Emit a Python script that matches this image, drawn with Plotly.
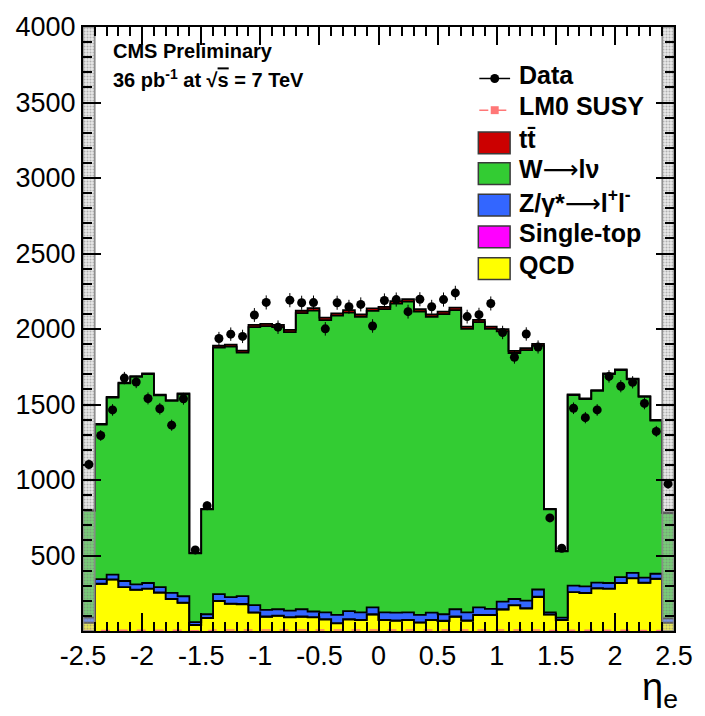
import numpy as np
import plotly.graph_objects as go

# ---------------- data ----------------
eta_lo, eta_hi, bin_w = -2.5, 2.5, 0.1
n_bins = 50

qcd = [55, 312, 341, 290, 273, 280, 254, 212, 187, 39,
       85, 198, 179, 177, 122, 94, 100, 90, 94, 90,
       76, 50, 76, 72, 109, 72, 68, 72, 55, 72,
       66, 94, 68, 105, 105, 142, 170, 149, 225, 109,
       72, 257, 251, 282, 280, 317, 349, 319, 345, 55]

single_top = [1, 1, 1, 1, 1, 1, 1, 1, 1, 1,
              1, 2, 2, 2, 2, 2, 2, 2, 2, 2,
              2, 2, 2, 2, 2, 2, 2, 2, 2, 2,
              2, 2, 2, 2, 2, 2, 2, 2, 2, 1,
              1, 1, 1, 1, 1, 1, 1, 1, 1, 1]

zjets = [32, 31, 32, 40, 35, 37, 36, 39, 42, 19,
         25, 44, 43, 52, 48, 44, 42, 43, 48, 37,
         46, 55, 53, 50, 46, 50, 52, 50, 50, 48,
         43, 48, 54, 50, 39, 50, 40, 50, 48, 13,
         15, 42, 44, 38, 37, 39, 35, 33, 33, 28]

wjets = [707, 1023, 1172, 1309, 1374, 1383, 1270, 1272, 1338, 456,
         694, 1632, 1659, 1612, 1840, 1879, 1868, 1844, 1961, 1993,
         1935, 1981, 1978, 1957, 1963, 2007, 2046, 2057, 2009, 1959,
         1988, 1981, 1877, 1888, 1855, 1790, 1629, 1659, 1614, 682,
         440, 1262, 1239, 1269, 1383, 1370, 1281, 1197, 1014, 696]

ttbar = [5, 5, 5, 5, 5, 5, 5, 5, 5, 3,
         3, 13, 13, 14, 15, 15, 15, 15, 16, 16,
         16, 16, 16, 16, 16, 16, 16, 16, 16, 16,
         16, 16, 15, 15, 15, 15, 14, 14, 13, 3,
         3, 5, 5, 5, 5, 5, 5, 5, 5, 5]

lm0_susy = [3, 4, 4, 5, 5, 5, 5, 5, 5, 2,
            3, 6, 6, 6, 7, 7, 7, 7, 7, 7,
            7, 7, 7, 7, 7, 7, 7, 7, 7, 7,
            7, 7, 7, 7, 7, 6, 6, 6, 6, 3,
            2, 5, 5, 5, 5, 5, 5, 4, 4, 3]

data = [1103, 1295, 1464, 1675, 1649, 1540, 1472, 1363, 1538, 537,
        830, 1937, 1966, 1951, 2093, 2176, 2012, 2191, 2174, 2175,
        2001, 2174, 2147, 2163, 2020, 2189, 2195, 2115, 2197, 2147,
        2195, 2239, 2082, 2095, 2169, 1977, 1813, 1967, 1881, 749,
        548, 1475, 1413, 1464, 1686, 1621, 1647, 1507, 1322, 974]

band_bins = [0, 49]          # bins covered by the grey hatched band
y_max = 4000

x_tickvals = [-2.5, -2, -1.5, -1, -0.5, 0, 0.5, 1, 1.5, 2, 2.5]
x_ticktext = ["-2.5", "-2", "-1.5", "-1", "-0.5", "0", "0.5", "1", "1.5", "2", "2.5"]
y_tickvals = [500, 1000, 1500, 2000, 2500, 3000, 3500, 4000]
y_ticktext = [str(v) for v in y_tickvals]

colors = {"QCD": "#ffff00", "Single-top": "#ff00ff", "Z": "#3366ff",
          "W": "#33cc33", "tt": "#cc0000", "LM0": "#ff7777"}

# ---------------- build ----------------
edges = np.round(np.linspace(eta_lo, eta_hi, n_bins + 1), 3)
centers = (edges[:-1] + edges[1:]) / 2

def step_y(vals):
    v = list(vals)
    return v + [v[-1]]

fig = go.Figure()

layers = [("QCD", qcd), ("Single-top", single_top), ("Z", zjets),
          ("W", wjets), ("tt", ttbar)]
cum = np.zeros(n_bins)
for i, (name, vals) in enumerate(layers):
    cum = cum + np.array(vals, dtype=float)
    fig.add_trace(go.Scatter(
        x=edges, y=step_y(cum), mode="lines",
        line=dict(shape="hv", color="black", width=1.8),
        fill="tozeroy" if i == 0 else "tonexty",
        fillcolor=colors[name], showlegend=False, hoverinfo="skip"))

fig.add_trace(go.Scatter(
    x=edges, y=step_y(lm0_susy), mode="lines",
    line=dict(shape="hv", color=colors["LM0"], width=1.5, dash="dash"),
    showlegend=False, hoverinfo="skip"))

# grey hatched band
bx, by = [], []
for b in band_bins:
    bx += [edges[b], edges[b + 1], edges[b + 1], edges[b], edges[b], None]
    by += [0, 0, y_max, y_max, 0, None]
fig.add_trace(go.Scatter(
    x=bx, y=by, mode="lines", fill="toself",
    line=dict(color="#8a8a8a", width=1.5),
    fillcolor="rgba(200,200,200,0.45)",
    fillpattern=dict(shape=".", fgcolor="#777777", bgcolor="rgba(205,205,205,0.45)",
                     size=3, solidity=0.35),
    showlegend=False, hoverinfo="skip"))

fig.add_trace(go.Scatter(
    x=centers, y=data, mode="markers",
    marker=dict(color="black", size=9),
    error_y=dict(type="data", array=np.sqrt(np.array(data, dtype=float)),
                 color="black", thickness=1, width=0),
    showlegend=False))

# ---------------- layout ----------------
L, R, T, B = 83, 678, 21, 631
W_px, H_px = 705, 716

def px(x):
    return (x - L) / (R - L)

def py(y):
    return (B - y) / (B - T)

font_main = "Liberation Sans, Arial, Helvetica, sans-serif"
shapes = []
annotations = []

# legend: Data
shapes.append(dict(type="line", xref="paper", yref="paper",
                   x0=px(482), x1=px(513), y0=py(73), y1=py(73),
                   line=dict(color="black", width=1.5)))
shapes.append(dict(type="circle", xref="paper", yref="paper",
                   x0=px(493), x1=px(502), y0=py(77.5), y1=py(68.5),
                   fillcolor="black", line=dict(color="black", width=0)))
# legend: LM0
shapes.append(dict(type="line", xref="paper", yref="paper",
                   x0=px(482), x1=px(513), y0=py(105), y1=py(105),
                   line=dict(color=colors["LM0"], width=1.5, dash="dash")))
shapes.append(dict(type="rect", xref="paper", yref="paper",
                   x0=px(493.5), x1=px(501.5), y0=py(109), y1=py(101),
                   fillcolor=colors["LM0"], line=dict(width=0)))

arrow = "<span style='font-family:DejaVu Sans;font-weight:normal'>\u27f6</span>"
legend_items = [("Data", None, 73), ("LM0 SUSY", None, 105),
                ("tt\u0304", "tt", 138), ("W" + arrow + "l\u03bd", "W", 169),
                ("Z/\u03b3*" + arrow + "l<sup>+</sup>l<sup>-</sup>", "Z", 201),
                ("Single-top", "Single-top", 233), ("QCD", "QCD", 265)]
for text, key, yc in legend_items:
    if key is not None:
        shapes.append(dict(type="rect", xref="paper", yref="paper",
                           x0=px(481), x1=px(513), y0=py(yc + 11), y1=py(yc - 11),
                           fillcolor=colors[key], line=dict(color="#3a3a3a", width=1.5)))
    annotations.append(dict(text="<b>" + text + "</b>", xref="paper", yref="paper",
                            x=px(520), y=py(yc - 4), xanchor="left", yanchor="middle",
                            showarrow=False,
                            font=dict(family=font_main, size=25, color="black")))

annotations.append(dict(text="<b>CMS Preliminary</b>", xref="paper", yref="paper",
                        x=px(111), y=py(45), xanchor="left", yanchor="middle",
                        showarrow=False, font=dict(family=font_main, size=20, color="black")))
annotations.append(dict(
    text="<b>36 pb<sup>-1</sup> at \u221a<span style='text-decoration:overline'>s</span> = 7 TeV</b>",
    xref="paper", yref="paper", x=px(111), y=py(73), xanchor="left", yanchor="middle",
    showarrow=False, font=dict(family=font_main, size=20, color="black")))

annotations.append(dict(text="\u03b7<sub>e</sub>", xref="paper", yref="paper",
                        x=px(684), y=py(664), xanchor="right", yanchor="top",
                        showarrow=False, font=dict(family=font_main, size=38, color="black")))

axis_common = dict(showline=True, linecolor="black", linewidth=2, mirror="allticks",
                   ticks="inside", ticklen=18, tickwidth=1.5, tickcolor="black",
                   showgrid=False, zeroline=False,
                   tickfont=dict(family=font_main, size=27, color="black"))

fig.update_layout(
    width=W_px, height=H_px,
    margin=dict(l=L, r=W_px - R, t=T, b=H_px - B),
    paper_bgcolor="white", plot_bgcolor="white",
    showlegend=False,
    shapes=shapes, annotations=annotations,
    xaxis=dict(range=[eta_lo, eta_hi], tickmode="array", tickvals=x_tickvals,
               ticktext=x_ticktext,
               minor=dict(tickmode="linear", tick0=eta_lo, dtick=bin_w, ticks="inside",
                          ticklen=9, tickwidth=1.5, tickcolor="black", showgrid=False),
               **axis_common),
    yaxis=dict(range=[0, y_max], tickmode="array", tickvals=y_tickvals,
               ticktext=y_ticktext,
               minor=dict(tickmode="linear", tick0=0, dtick=100, ticks="inside",
                          ticklen=9, tickwidth=1.5, tickcolor="black", showgrid=False),
               **axis_common),
)

fig.write_html("out.html")
